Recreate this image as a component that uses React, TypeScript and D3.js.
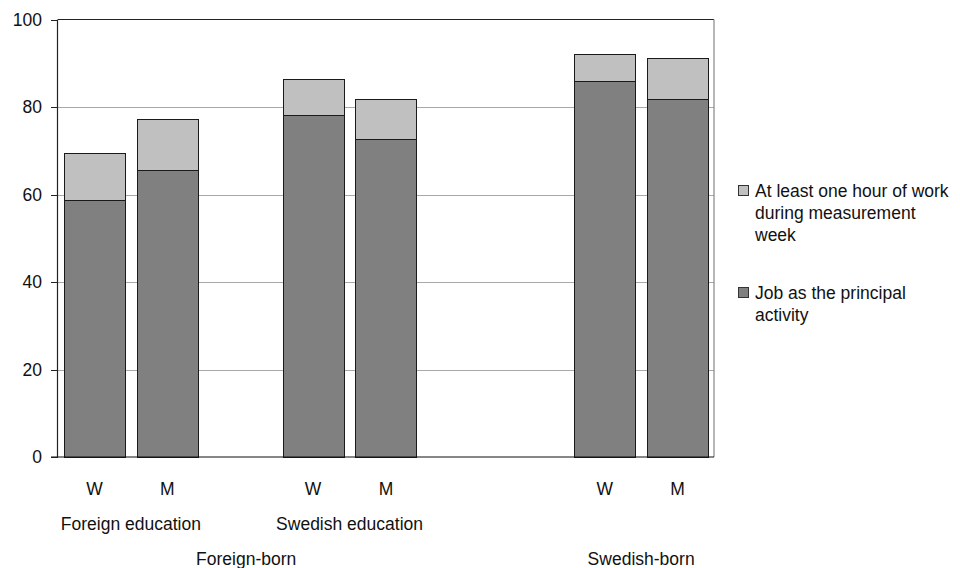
import React from 'react';
import * as d3 from 'd3';

const slots = ['FE-W', 'FE-M', 'gap1', 'SE-W', 'SE-M', 'gap2', 'gap3', 'SB-W', 'SB-M'];
const barKeys = ['FE-W', 'FE-M', 'SE-W', 'SE-M', 'SB-W', 'SB-M'];
const barLabels = ['W', 'M', 'W', 'M', 'W', 'M'];
const jobPrincipal = [58.7, 65.6, 78.2, 72.7, 85.9, 81.9];
const atLeastOneHour = [10.8, 11.7, 8.2, 9.1, 6.2, 9.3];
const educationGroups = [
  { label: 'Foreign education', members: ['FE-W', 'FE-M'] },
  { label: 'Swedish education', members: ['SE-W', 'SE-M'] },
];
const birthGroups = [
  { label: 'Foreign-born', members: ['FE-W', 'SE-M'], offset: 6 },
  { label: 'Swedish-born', members: ['SB-W', 'SB-M'], offset: 0 },
];
const seriesKeys = ['job', 'hour'];
const seriesNames = ['At least one hour of work|during measurement|week', 'Job as the principal|activity'];
const yTicks = [0, 20, 40, 60, 80, 100];

const colors: Record<string, string> = { job: '#808080', hour: '#c0c0c0' };
const FONT = '"Liberation Sans", Arial, Helvetica, sans-serif';

export default function App() {
  const W = 960, H = 568;
  const left = 58, right = 714, top = 19.5, bottom = 457;
  const x = d3.scaleBand<string>().domain(slots).range([left, right]).paddingInner(0.163).paddingOuter(0.0815);
  const y = d3.scaleLinear().domain([0, 100]).range([bottom, top]);

  const rows = barKeys.map((k, i) => ({ key: k, job: jobPrincipal[i], hour: atLeastOneHour[i] }));
  const stacked = d3.stack<any>().keys(seriesKeys)(rows);
  const center = (k: string) => (x(k) as number) + x.bandwidth() / 2;
  const fs = 17.5;

  return (
    <svg width={W} height={H} style={{ position: 'absolute', left: 0, top: 0, fontFamily: FONT }}>
      <rect x={0} y={0} width={W} height={H} fill="#fff" />
      {yTicks.filter(t => t > 0 && t < 100).map(t => (
        <line key={'g' + t} x1={left} x2={right} y1={Math.round(y(t)) + 0.5} y2={Math.round(y(t)) + 0.5} stroke="#a8a8a8" strokeWidth={1} />
      ))}
      <line x1={left} x2={right} y1={top} y2={top} stroke="#222" strokeWidth={1} />
      <line x1={right} x2={right} y1={top} y2={bottom} stroke="#888" strokeWidth={1.2} />
      {stacked.map(s => (
        <g key={s.key}>
          {s.map((d, i) => {
            const x0 = Math.round(x(rows[i].key) as number) + 0.5;
            const w = Math.round(x.bandwidth());
            const y1 = Math.round(y(d[1])) + 0.5;
            const y0 = Math.round(y(d[0])) + 0.5;
            return <rect key={i} x={x0} y={y1} width={w} height={y0 - y1} fill={colors[s.key]} stroke="#1a1a1a" strokeWidth={1} />;
          })}
        </g>
      ))}
      <line x1={left - 0.5} x2={left - 0.5} y1={top} y2={bottom} stroke="#222" strokeWidth={1.2} />
      <line x1={51} x2={right} y1={bottom} y2={bottom} stroke="#111" strokeWidth={1.2} />
      {yTicks.map(t => (
        <g key={'t' + t}>
          <line x1={51} x2={left} y1={Math.round(y(t)) + 0.5} y2={Math.round(y(t)) + 0.5} stroke="#222" />
          <text x={42} y={y(t) + 6} textAnchor="end" fontSize={fs} fill="#111">{t}</text>
        </g>
      ))}
      {barKeys.map((k, i) => (
        <text key={'l' + k} x={center(k)} y={495} textAnchor="middle" fontSize={fs} fill="#111">{barLabels[i]}</text>
      ))}
      {educationGroups.map(g => (
        <text key={g.label} x={(center(g.members[0]) + center(g.members[1])) / 2} y={530} textAnchor="middle" fontSize={fs} fill="#111">{g.label}</text>
      ))}
      {birthGroups.map(g => (
        <text key={g.label} x={(center(g.members[0]) + center(g.members[1])) / 2 + g.offset} y={565} textAnchor="middle" fontSize={fs} fill="#111">{g.label}</text>
      ))}
      {['hour', 'job'].map((k, i) => {
        const by = i === 0 ? 185.5 : 287.5;
        const lines = seriesNames[i].split('|');
        return (
          <g key={'lg' + k}>
            <rect x={738.5} y={by} width={10} height={10} fill={colors[k]} stroke="#333" strokeWidth={1} />
            {lines.map((ln, j) => (
              <text key={j} x={755} y={by + 11 + j * 22} fontSize={fs} fill="#111">{ln}</text>
            ))}
          </g>
        );
      })}
    </svg>
  );
}
